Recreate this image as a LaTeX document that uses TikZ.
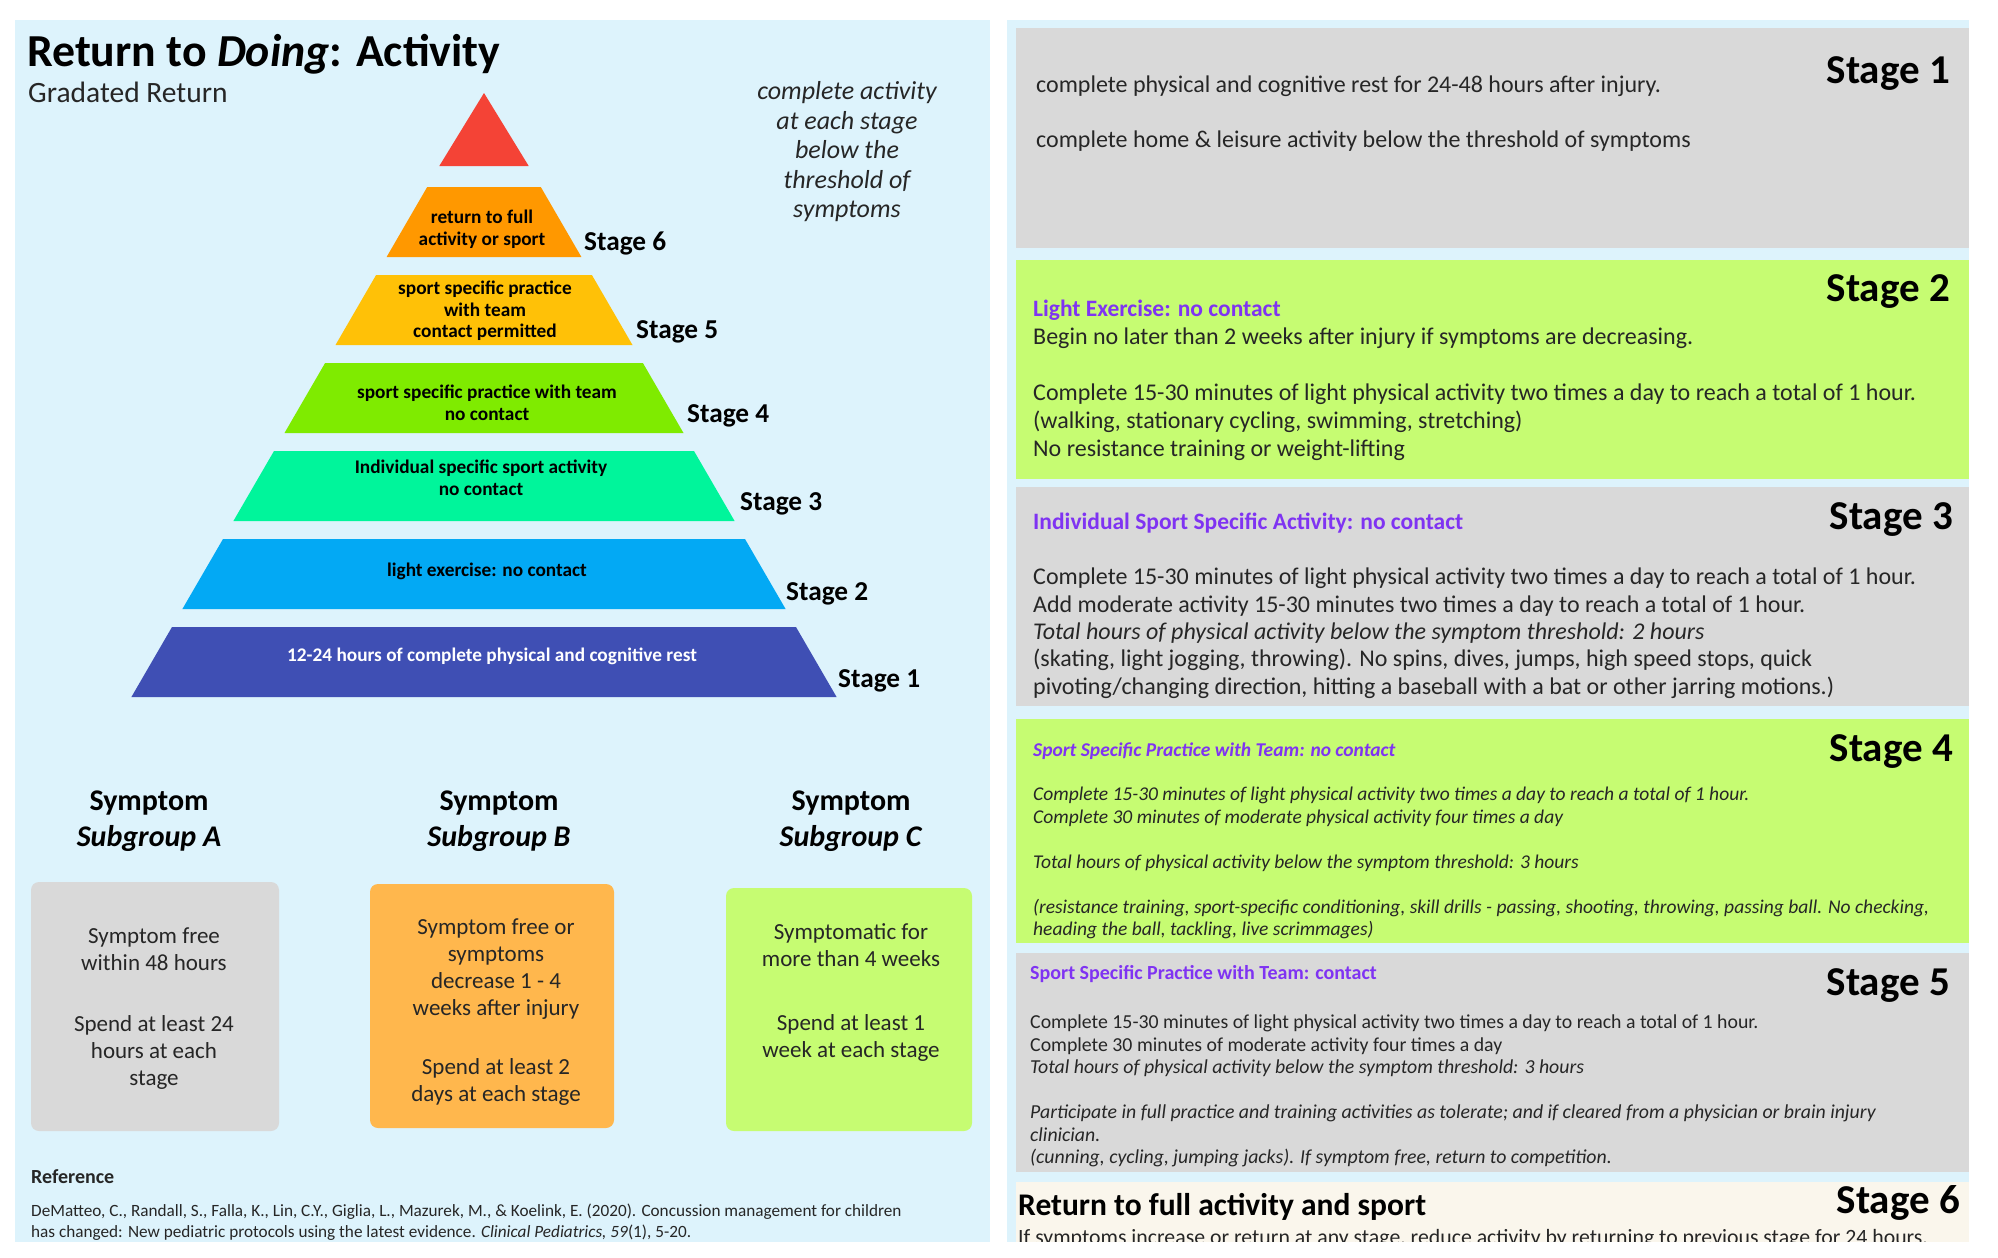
\documentclass[tikz,border=0pt]{standalone}
\usepackage{fontspec}
\setmainfont{Carlito}
\definecolor{bgblue}{HTML}{DDF3FC}
\definecolor{boxgray}{HTML}{D9D9D9}
\definecolor{limebox}{HTML}{C6FC72}
\definecolor{purp}{HTML}{7F33F2}
\definecolor{beigebox}{HTML}{FAF6EC}
\definecolor{txt}{HTML}{262626}
\definecolor{pyrred}{HTML}{F44336}
\definecolor{pyrorange}{HTML}{FF9800}
\definecolor{pyramber}{HTML}{FFC107}
\definecolor{pyrgreen}{HTML}{7FEB00}
\definecolor{pyrspring}{HTML}{00F59B}
\definecolor{pyrblue}{HTML}{03A9F4}
\definecolor{pyrindigo}{HTML}{3F4FB4}
\definecolor{subA}{HTML}{D9D9D9}
\definecolor{subB}{HTML}{FFB74D}
\definecolor{subC}{HTML}{C6FC72}
\begin{document}
\begin{tikzpicture}[x=1pt,y=-1pt,
  every node/.style={inner sep=0pt},
  bodytxt/.style={font=\fontsize{24}{27.5}\selectfont, align=left, anchor=north west, text=txt},
  smalltxt/.style={font=\fontsize{19.8}{22.5}\selectfont, align=left, anchor=north west, text=txt},
  headtxt/.style={font=\bfseries\fontsize{23.5}{26}\selectfont, text=purp, anchor=west},
  rstage/.style={font=\bfseries\fontsize{41}{44}\selectfont, anchor=east, text=black},
  lstage/.style={font=\bfseries\fontsize{27.3}{30}\selectfont, anchor=west, text=black},
  pyrtxt/.style={font=\bfseries\fontsize{19.3}{21.5}\selectfont, align=center, text=black},
  subhead/.style={font=\bfseries\fontsize{30}{36}\selectfont, align=center, text=black},
  subtxt/.style={font=\fontsize{23}{27}\selectfont, align=center, anchor=north, text=txt},
  subbox/.style={rounded corners=8pt}
]
\useasboundingbox (0,0) rectangle (1998,1258);
\fill[white] (0,0) rectangle (1998,1258);
% panels
\fill[bgblue] (15,20) rectangle (990,1242);
\fill[bgblue] (1007,20) rectangle (1969,1242);

% ---------------- left panel ----------------
\node[anchor=west, font=\bfseries\fontsize{45.8}{48}\selectfont] (title) at (27,54) {Return to \textit{Doing}: Activity};
\node[anchor=west, font=\fontsize{29.5}{32}\selectfont, text=txt] (subtitle) at (28,92) {Gradated Return};
\node[font=\itshape\fontsize{26}{29.5}\selectfont, align=center, text=txt] (note) at (847,152) {complete activity\\at each stage\\below the\\threshold of\\symptoms};

% pyramid
\fill[pyrred] (484,93) -- (528.7,166) -- (439.3,166) -- cycle;
\fill[pyrorange] (427.2,187) -- (540.8,187) -- (581.4,257) -- (386.6,257) -- cycle;
\fill[pyramber] (376.1,275) -- (591.9,275) -- (632.5,345) -- (335.5,345) -- cycle;
\fill[pyrgreen] (325.1,363) -- (642.9,363) -- (683.5,433) -- (284.5,433) -- cycle;
\fill[pyrspring] (274,451) -- (694,451) -- (734.6,521) -- (233.4,521) -- cycle;
\fill[pyrblue] (223,539) -- (745,539) -- (785.6,609) -- (182.4,609) -- cycle;
\fill[pyrindigo] (172,627) -- (796,627) -- (836.6,697) -- (131.4,697) -- cycle;

\node[pyrtxt] (p6) at (482,229) {return to full\\activity or sport};
\node[pyrtxt] (p5) at (485,311) {sport specific practice\\with team\\contact permitted};
\node[pyrtxt] (p4) at (487,403) {sport specific practice with team\\no contact};
\node[pyrtxt] (p3) at (481,478) {Individual specific sport activity\\no contact};
\node[pyrtxt] (p2) at (487,571) {light exercise: no contact};
\node[pyrtxt, text=white] (p1) at (492,656) {12-24 hours of complete physical and cognitive rest};

\node[lstage] (l6) at (584,243) {Stage 6};
\node[lstage] (l5) at (636,332) {Stage 5};
\node[lstage] (l4) at (687,416) {Stage 4};
\node[lstage] (l3) at (740,504) {Stage 3};
\node[lstage] (l2) at (786,594) {Stage 2};
\node[lstage] (l1) at (838,681) {Stage 1};

% subgroups
\node[subhead] (ha) at (149,821) {Symptom\\\textit{Subgroup A}};
\node[subhead] (hb) at (499,821) {Symptom\\\textit{Subgroup B}};
\node[subhead] (hc) at (851,821) {Symptom\\\textit{Subgroup C}};

\fill[subA, subbox] (31,882) rectangle (279,1131);
\fill[subB, subbox] (370,884) rectangle (614,1128);
\fill[subC, subbox] (726,888) rectangle (972,1131);

\node[subtxt] (ta) at (154,928) {Symptom free\\within 48 hours\\[34pt]Spend at least 24\\hours at each\\stage};
\node[subtxt] (tb) at (496,919) {Symptom free or\\symptoms\\decrease 1 - 4\\weeks after injury\\[32pt]Spend at least 2\\days at each stage};
\node[subtxt] (tc) at (851,923) {Symptomatic for\\more than 4 weeks\\[37pt]Spend at least 1\\week at each stage};

\node[anchor=west, font=\bfseries\fontsize{20}{22}\selectfont, text=txt] (refh) at (31,1177) {Reference};
\node[anchor=north west, align=left, font=\fontsize{17.2}{21}\selectfont, text=txt] (cite) at (31,1204) {DeMatteo, C., Randall, S., Falla, K., Lin, C.Y., Giglia, L., Mazurek, M., \& Koelink, E. (2020). Concussion management for children\\has changed: New pediatric protocols using the latest evidence. \textit{Clinical Pediatrics, 59}(1), 5-20.};

% ---------------- right panel ----------------
\fill[boxgray] (1016,28) rectangle (1969,248);
\fill[limebox] (1016,260) rectangle (1969,479);
\fill[boxgray] (1016,487) rectangle (1969,706);
\fill[limebox] (1016,719) rectangle (1969,943);
\fill[boxgray] (1016,953) rectangle (1969,1172);
\fill[beigebox] (1016,1182) rectangle (1969,1242);

% stage 1
\node[rstage] (r1) at (1950,74) {Stage 1};
\node[bodytxt] (b1) at (1036,76) {complete physical and cognitive rest for 24-48 hours after injury.\\[27.5pt]complete home \& leisure activity below the threshold of symptoms};

% stage 2
\node[rstage] (r2) at (1950,292) {Stage 2};
\node[headtxt] (h2) at (1033,310) {Light Exercise: no contact};
\node[bodytxt, font=\fontsize{24}{28}\selectfont] (b2) at (1033,328) {Begin no later than 2 weeks after injury if symptoms are decreasing.\\[28pt]Complete 15-30 minutes of light physical activity two times a day to reach a total of 1 hour.\\(walking, stationary cycling, swimming, stretching)\\No resistance training or weight-lifting};

% stage 3
\node[rstage] (r3) at (1953,520) {Stage 3};
\node[headtxt] (h3) at (1033,523) {Individual Sport Specific Activity: no contact};
\node[bodytxt, font=\fontsize{24}{27.3}\selectfont] (b3) at (1033,568) {Complete 15-30 minutes of light physical activity two times a day to reach a total of 1 hour.\\Add moderate activity 15-30 minutes two times a day to reach a total of 1 hour.\\\textit{Total hours of physical activity below the symptom threshold: 2 hours}\\(skating, light jogging, throwing). No spins, dives, jumps, high speed stops, quick\\pivoting/changing direction, hitting a baseball with a bat or other jarring motions.)};

% stage 4
\node[rstage] (r4) at (1953,752) {Stage 4};
\node[headtxt, font=\bfseries\itshape\fontsize{19.5}{22}\selectfont] (h4) at (1033,751) {Sport Specific Practice with Team: no contact};
\node[smalltxt, font=\itshape\fontsize{19.5}{22.5}\selectfont] (b4) at (1033,787) {Complete 15-30 minutes of light physical activity two times a day to reach a total of 1 hour.\\Complete 30 minutes of moderate physical activity four times a day\\[22.5pt]Total hours of physical activity below the symptom threshold: 3 hours\\[22.5pt](resistance training, sport-specific conditioning, skill drills - passing, shooting, throwing, passing ball. No checking,\\heading the ball, tackling, live scrimmages)};

% stage 5
\node[rstage] (r5) at (1950,986) {Stage 5};
\node[headtxt, font=\bfseries\fontsize{20}{22}\selectfont] (h5) at (1030,974) {Sport Specific Practice with Team: contact};
\node[smalltxt] (b5) at (1030,1015) {Complete 15-30 minutes of light physical activity two times a day to reach a total of 1 hour.\\Complete 30 minutes of moderate activity four times a day\\\textit{Total hours of physical activity below the symptom threshold: 3 hours}\\[22.5pt]\textit{Participate in full practice and training activities as tolerate; and if cleared from a physician or brain injury}\\\textit{clinician.}\\\textit{(cunning, cycling, jumping jacks). If symptom free, return to competition.}};

% stage 6
\begin{scope}
\clip (1016,1182) rectangle (1969,1241);
\node[rstage] (r6) at (1960,1203) {Stage 6};
\node[anchor=west, font=\bfseries\fontsize{31.5}{34}\selectfont, text=black] (h6) at (1018,1207) {Return to full activity and sport};
\node[anchor=west, font=\fontsize{21.8}{24}\selectfont, text=txt] (b6) at (1018,1239) {If symptoms increase or return at any stage, reduce activity by returning to previous stage for 24 hours.};
\end{scope}
\end{tikzpicture}
\end{document}
